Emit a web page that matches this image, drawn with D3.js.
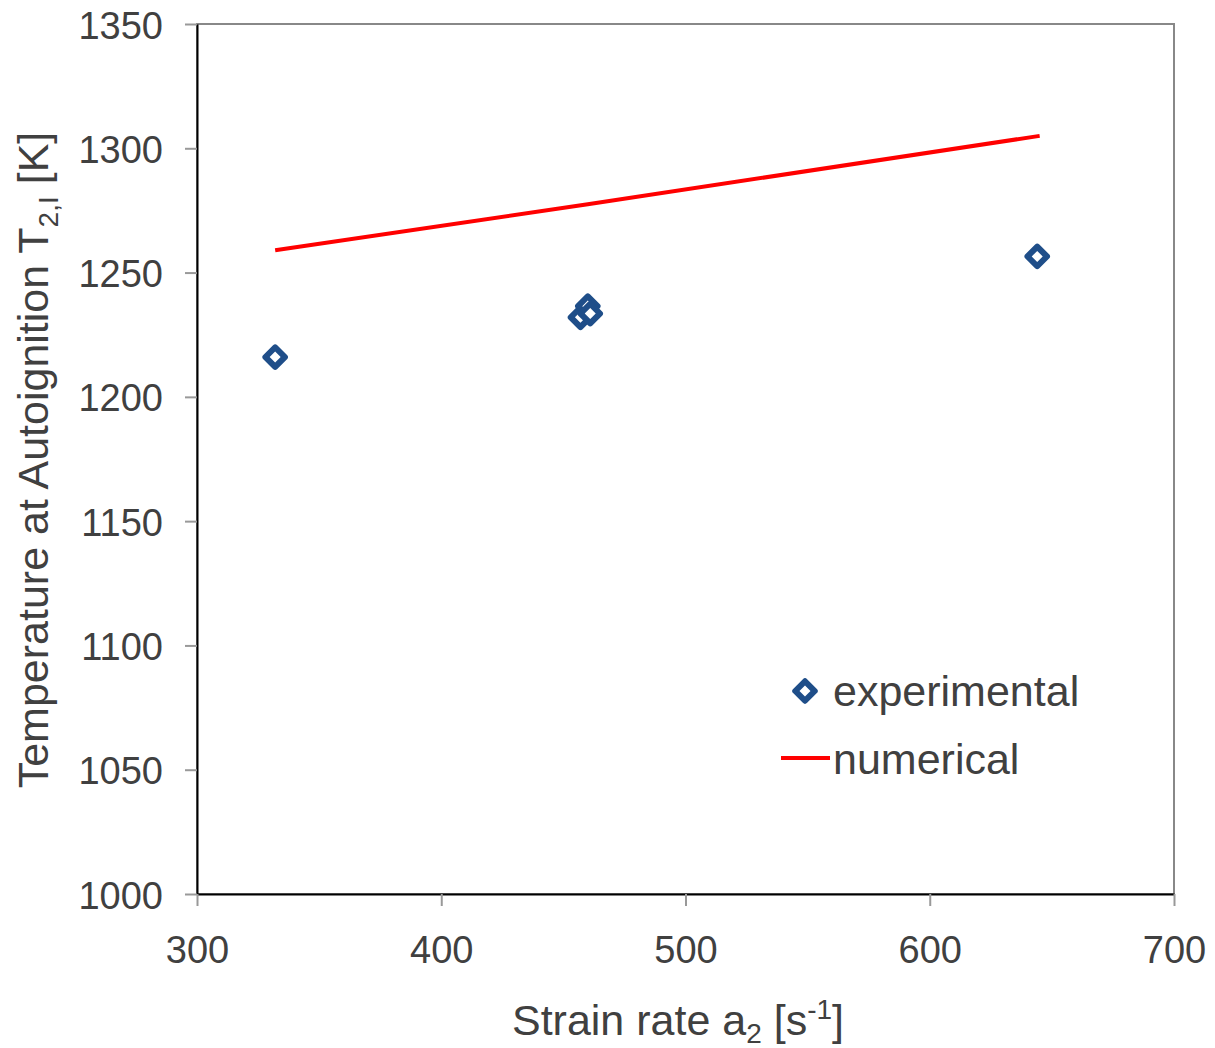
<!DOCTYPE html>
<html>
<head>
<meta charset="utf-8">
<title>Autoignition temperature vs strain rate</title>
<script src="https://d3js.org/d3.v7.min.js"></script>
<style>
  body { margin: 0; background: #fff; }
  text { font-family: "Liberation Sans", Arial, sans-serif; fill: #404040; }
</style>
</head>
<body>
<svg id="chart" width="1215" height="1048"></svg>
<script>
// experimental points (strain rate, temperature)
var expRate = [332, 457, 460, 461, 644];
var expTemp = [1216, 1232, 1236.5, 1233.5, 1256.5];
// numerical curve
var numRate = [332, 460, 645];
var numTemp = [1259, 1277.5, 1305];
var xTicks = [300, 400, 500, 600, 700];
var yTicks = [1000, 1050, 1100, 1150, 1200, 1250, 1300, 1350];

var svg = d3.select("#chart");
var mLeft = 197, mRight = 1174, mTop = 24, mBottom = 894;

var x = d3.scaleLinear().domain([300, 700]).range([mLeft, mRight]);
var y = d3.scaleLinear().domain([1000, 1350]).range([mBottom, mTop]);

// frame (gray) then black left/bottom axis lines
svg.append("rect")
  .attr("x", mLeft).attr("y", mTop)
  .attr("width", mRight - mLeft).attr("height", mBottom - mTop)
  .attr("fill", "none").attr("stroke", "#888").attr("stroke-width", 2);

var yAxis = svg.append("g").attr("transform", "translate(" + mLeft + ",0)")
  .call(d3.axisLeft(y).tickValues(yTicks).tickSize(12).tickSizeOuter(0).tickPadding(22).tickFormat(d3.format("d")));
var xAxis = svg.append("g").attr("transform", "translate(0," + mBottom + ")")
  .call(d3.axisBottom(x).tickValues(xTicks).tickSize(12).tickSizeOuter(0).tickPadding(30).tickFormat(d3.format("d")));

[yAxis, xAxis].forEach(function (g) {
  g.select(".domain").attr("stroke", "#000").attr("stroke-width", 2);
  g.selectAll(".tick line").attr("stroke", "#999").attr("stroke-width", 2);
  g.selectAll(".tick text")
    .attr("font-size", 38)
    .style("font-family", "'Liberation Sans', Arial, sans-serif")
    .style("fill", "#404040");
});
yAxis.selectAll(".tick text").attr("dy", "0.37em");
xAxis.selectAll(".tick text").attr("dy", "0.71em");

// numerical line
var line = d3.line().x(function (d) { return x(d[0]); }).y(function (d) { return y(d[1]); });
svg.append("path")
  .datum(d3.zip(numRate, numTemp))
  .attr("d", line)
  .attr("fill", "none").attr("stroke", "#ff0000").attr("stroke-width", 4);

// experimental markers
var marker = d3.symbol().type(d3.symbolSquare).size(190);
svg.selectAll(".exp")
  .data(d3.zip(expRate, expTemp))
  .enter().append("path")
  .attr("class", "exp")
  .attr("d", marker)
  .attr("transform", function (d) { return "translate(" + x(d[0]) + "," + y(d[1]) + ") rotate(45)"; })
  .attr("fill", "#fff").attr("stroke", "#1f4e89").attr("stroke-width", 6)
  .attr("stroke-linejoin", "round");

// legend
var lg = svg.append("g");
lg.append("path")
  .attr("d", marker)
  .attr("transform", "translate(805,691) rotate(45)")
  .attr("fill", "#fff").attr("stroke", "#1f4e89").attr("stroke-width", 6)
  .attr("stroke-linejoin", "round");
lg.append("text").attr("x", 833).attr("y", 706).attr("font-size", 43).text("experimental");
lg.append("line").attr("x1", 781).attr("x2", 830).attr("y1", 758).attr("y2", 758)
  .attr("stroke", "#ff0000").attr("stroke-width", 4);
lg.append("text").attr("x", 833).attr("y", 774).attr("font-size", 43).text("numerical");

// x axis title
var xt = svg.append("text").attr("x", 678).attr("y", 1035)
  .attr("text-anchor", "middle").attr("font-size", 43);
xt.append("tspan").text("Strain rate a");
xt.append("tspan").attr("font-size", 28).attr("dy", 8).text("2");
xt.append("tspan").attr("dy", -8).text(" [s");
xt.append("tspan").attr("font-size", 28).attr("dy", -16).text("-1");
xt.append("tspan").attr("dy", 16).text("]");

// y axis title
var yt = svg.append("text")
  .attr("transform", "translate(48,460) rotate(-90)")
  .attr("text-anchor", "middle").attr("font-size", 43);
yt.append("tspan").text("Temperature at Autoignition T");
yt.append("tspan").attr("font-size", 28).attr("dy", 10).text("2,I");
yt.append("tspan").attr("dy", -10).text(" [K]");
</script>
</body>
</html>
